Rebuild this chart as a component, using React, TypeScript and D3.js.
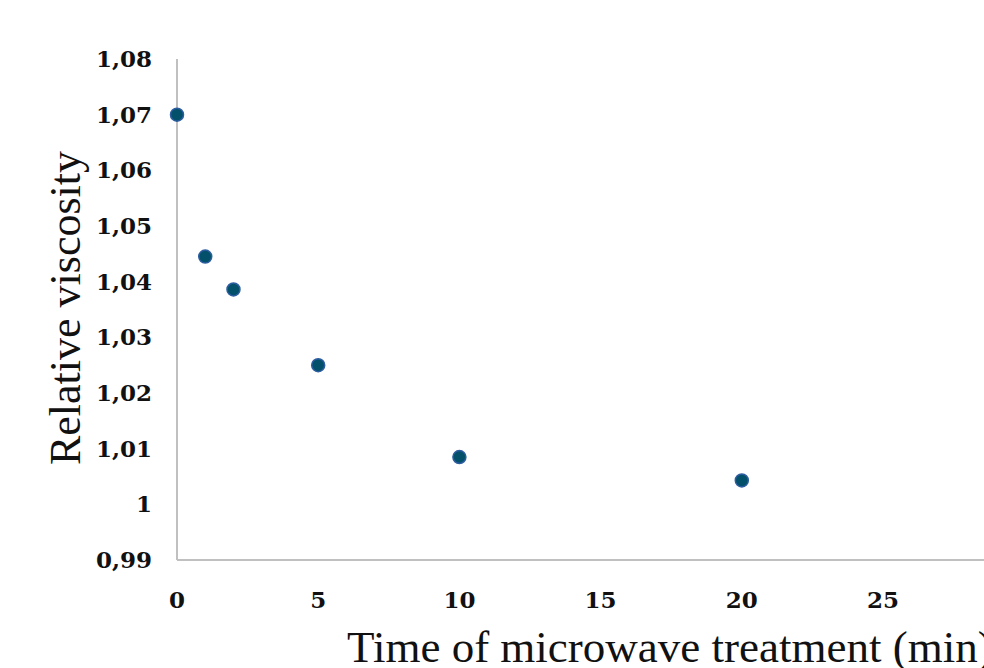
import React from "react";
import * as d3 from "d3";

const times = [0, 1, 2, 5, 10, 20];
const viscosity = [1.07, 1.0445, 1.0386, 1.025, 1.0085, 1.0043];
const xTicks = [0, 5, 10, 15, 20, 25];
const yTicks = [0.99, 1.0, 1.01, 1.02, 1.03, 1.04, 1.05, 1.06, 1.07, 1.08];
const xTitle = "Time of microwave treatment (min)";
const yTitle = "Relative viscosity";

const W = 984;
const H = 668;

function fmtY(v: number): string {
  const s = d3.format(".2f")(v);
  if (Math.abs(v - 1) < 1e-9) return "1";
  return s.replace(".", ",");
}

export default function App() {
  const x = d3.scaleLinear().domain([0, 25]).range([177, 883]);
  const y = d3.scaleLinear().domain([0.99, 1.08]).range([560, 59]);
  const font = "'Liberation Serif', 'DejaVu Serif', serif";
  const tickFont = "'DejaVu Serif', serif";
  return (
    <svg
      width={W}
      height={H}
      style={{ position: "absolute", left: 0, top: 0, background: "#fff" }}
      fontFamily={font}
    >
      <line x1={x(0)} x2={x(0)} y1={y(1.08)} y2={y(0.99)} stroke="#c0c0c0" strokeWidth={2} />
      <line x1={x(0)} x2={W + 10} y1={y(0.99)} y2={y(0.99)} stroke="#c0c0c0" strokeWidth={2} />
      {yTicks.map((t) => (
        <text
          key={t}
          x={152}
          y={y(t)}
          dy="0.35em"
          textAnchor="end"
          fontWeight="bold"
          fontSize={23}
          fontFamily={tickFont}
          fill="#111"
        >
          {fmtY(t)}
        </text>
      ))}
      {xTicks.map((t) => (
        <text
          key={t}
          x={x(t)}
          y={600}
          dy="0.35em"
          textAnchor="middle"
          fontWeight="bold"
          fontSize={23}
          fontFamily={tickFont}
          fill="#111"
        >
          {t}
        </text>
      ))}
      {times.map((t, i) => (
        <circle
          key={t}
          cx={x(t)}
          cy={y(viscosity[i])}
          r={6.5}
          fill="#02506a"
          stroke="#2d5da0"
          strokeWidth={1.5}
        />
      ))}
      <text x={347} y={662} fontSize={45} fill="#111">
        {xTitle}
      </text>
      <text
        transform={`translate(80, ${308}) rotate(-90)`}
        textAnchor="middle"
        fontSize={44}
        fill="#111"
      >
        {yTitle}
      </text>
    </svg>
  );
}
